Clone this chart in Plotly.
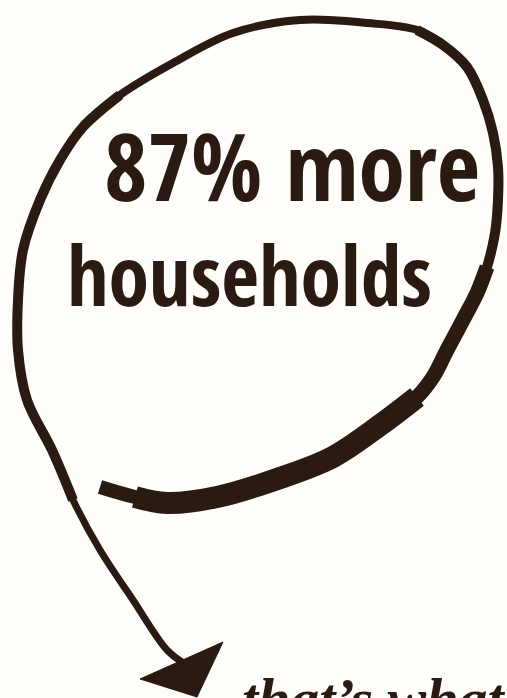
import plotly.graph_objects as go

# Hand-drawn loop (pixel space, y down), in drawing order
tail_x = [100, 135, 167]
tail_y = [487, 497, 503]
bottom_x = [135, 167, 217, 283, 333, 383, 417]
bottom_y = [497, 503, 497, 477, 457, 423, 397]
right_low_x = [383, 417, 433, 447, 463, 477, 487]
right_low_y = [423, 397, 377, 350, 320, 293, 267]
right_up_x = [477, 487, 495, 498, 498, 493, 483, 467, 443, 417]
right_up_y = [293, 267, 233, 200, 167, 133, 100, 67, 45, 30]
top_x = [443, 417, 367, 300, 233, 173, 120, 83]
top_y = [45, 30, 23, 20, 33, 63, 95, 127]
left_x = [120, 83, 60, 40, 23, 18, 18, 27, 52, 73]
left_y = [95, 127, 160, 200, 250, 300, 350, 400, 450, 500]
shaft_x = [52, 73, 100, 133, 167, 185]
shaft_y = [450, 500, 550, 600, 650, 664]
arrow_x = [140, 223, 197, 140]
arrow_y = [679, 642, 697, 679]

headline = ["87% more", "households"]
tagline = "that’s what"

INK = "#2a1a12"
HEAD_FONT = "Open Sans Condensed, Roboto Condensed, sans-serif"

fig = go.Figure()

def stroke(xs, ys, w):
    fig.add_trace(go.Scatter(x=xs, y=ys, mode="lines",
                             line=dict(color=INK, width=w, shape="spline", smoothing=1.0),
                             hoverinfo="skip", showlegend=False))

stroke(tail_x, tail_y, 14)
stroke(bottom_x, bottom_y, 22)
stroke(right_low_x, right_low_y, 15)
stroke(right_up_x, right_up_y, 10)
stroke(top_x, top_y, 8)
stroke(left_x, left_y, 10)
stroke(shaft_x, shaft_y, 7)
fig.add_trace(go.Scatter(x=arrow_x, y=arrow_y, mode="lines", fill="toself",
                         fillcolor=INK, line=dict(color=INK, width=1),
                         hoverinfo="skip", showlegend=False))

fig.add_annotation(x=292, y=165, text=headline[0], showarrow=False,
                   xanchor="center", yanchor="middle",
                   font=dict(family=HEAD_FONT, size=94, color=INK, weight="bold"))
fig.add_annotation(x=249, y=274, text=headline[1], showarrow=False,
                   xanchor="center", yanchor="middle",
                   font=dict(family=HEAD_FONT, size=82, color=INK, weight="bold"))
fig.add_annotation(x=240, y=690, text=tagline, showarrow=False,
                   xanchor="left", yanchor="middle", yshift=-8,
                   font=dict(family="Liberation Serif, serif", size=58, color=INK,
                             weight="bold", style="italic"))

fig.update_xaxes(range=[0, 507], visible=False, fixedrange=True)
fig.update_yaxes(range=[698, 0], visible=False, fixedrange=True)
fig.update_layout(width=507, height=698, margin=dict(l=0, r=0, t=0, b=0),
                  paper_bgcolor="#fffefb", plot_bgcolor="#fffefb")

fig.write_html("out.html", config={"displayModeBar": False},
               post_script="document.body.style.margin='0';")
